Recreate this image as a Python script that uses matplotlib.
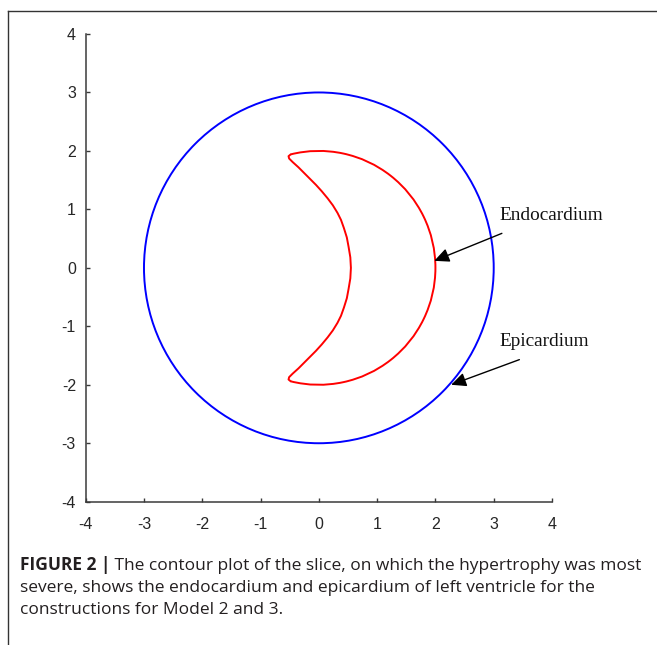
import matplotlib
matplotlib.use("Agg")
import matplotlib.pyplot as plt
from matplotlib.patches import Circle, Arc
from matplotlib.lines import Line2D

# ---- data ----
epi_radius = 3.0
endo_radius = 2.0
endo_arc_deg = 104.0  # outer endocardial arc spans -104..104 degrees

# inner (septal) boundary of the endocardium, upper half, from cusp to midline
inner_x_upper = [-0.484, -0.52, -0.51, -0.45, -0.35, -0.25, -0.15, -0.05,
                 0.05, 0.15, 0.24, 0.32, 0.38, 0.43, 0.48, 0.51, 0.54, 0.55]
inner_y_upper = [1.94, 1.91, 1.87, 1.81, 1.72, 1.62, 1.52, 1.42,
                 1.31, 1.19, 1.07, 0.94, 0.82, 0.68, 0.52, 0.36, 0.18, 0.0]

xticks = [-4, -3, -2, -1, 0, 1, 2, 3, 4]
yticks = [-4, -3, -2, -1, 0, 1, 2, 3, 4]

labels = ["Endocardium", "Epicardium"]
label_xy = [(3.10, 0.81), (3.10, -1.345)]
arrow_tail = [(3.14, 0.59), (3.44, -1.57)]
arrow_head = [(1.98, 0.12), (2.27, -2.0)]

caption_bold = "FIGURE 2 |"
caption_lines = [
    " The contour plot of the slice, on which the hypertrophy was most",
    "severe, shows the endocardium and epicardium of left ventricle for the",
    "constructions for Model 2 and 3.",
]

# ---- figure ----
W, H = 657, 645
fig = plt.figure(figsize=(W / 100, H / 100), dpi=100)
fig.patch.set_facecolor("white")

ax = fig.add_axes([85.7 / W, 1 - 501.7 / H, (552.0 - 85.7) / W, (501.7 - 34.0) / H])
ax.set_xlim(-4, 4)
ax.set_ylim(-4, 4)

spine_c = "#3a3a3a"
for s in ["top", "right"]:
    ax.spines[s].set_visible(False)
for s in ["left", "bottom"]:
    ax.spines[s].set_color(spine_c)
    ax.spines[s].set_linewidth(1.1)

ax.set_xticks(xticks)
ax.set_yticks(yticks)
ax.set_xticklabels([str(v) for v in xticks])
ax.set_yticklabels([str(v) for v in yticks])
ax.tick_params(axis="both", direction="in", length=3, width=1.0, color=spine_c,
               labelsize=11.5, labelcolor="#262626")
ax.tick_params(axis="x", pad=11)
ax.tick_params(axis="y", pad=7)
for t in ax.get_xticklabels() + ax.get_yticklabels():
    t.set_fontfamily("Liberation Sans")

# epicardium
ax.add_patch(Circle((0, 0), epi_radius, fill=False, edgecolor="#0000ff", lw=1.4))

# endocardium: outer arc plus inner boundary
ax.add_patch(Arc((0, 0), 2 * endo_radius, 2 * endo_radius,
                 theta1=-endo_arc_deg, theta2=endo_arc_deg, edgecolor="#ff0000", lw=1.4))
inner_x = inner_x_upper + inner_x_upper[::-1][1:]
inner_y = inner_y_upper + [-v for v in inner_y_upper[::-1][1:]]
ax.plot(inner_x, inner_y, color="#ff0000", lw=1.4, solid_capstyle="round",
        solid_joinstyle="round")

for lab, (tx, ty), tail, head in zip(labels, label_xy, arrow_tail, arrow_head):
    ax.text(tx, ty, lab, fontsize=13.9, family="Liberation Serif", color="#111111",
            ha="left", va="baseline", clip_on=False)
    ax.annotate("", xy=head, xytext=tail,
                arrowprops=dict(arrowstyle="-|>,head_length=0.6,head_width=0.28",
                                color="black", lw=1.0, mutation_scale=15,
                                shrinkA=0, shrinkB=0),
                annotation_clip=False)

# panel frame (top and left edges)
fig.add_artist(Line2D([8 / W, 1.0], [1 - 11 / H, 1 - 11 / H], color="#333333", lw=1.0))
fig.add_artist(Line2D([8 / W, 8 / W], [0.0, 1 - 11 / H], color="#333333", lw=1.0))

# caption
cap_color = "#231f20"
cap_font = "Open Sans"
cap_size = 11.3
x0 = 20 / W
line1_right = 647.0
baselines = [570, 592.5, 614.5]
renderer = fig.canvas.get_renderer()

# size the caption so its first line spans the text block width
bold = fig.text(x0, 1 - baselines[0] / H, caption_bold, fontsize=cap_size,
                weight="bold", family=cap_font, color=cap_color, va="baseline")
rest = fig.text(0, 1 - baselines[0] / H, caption_lines[0], fontsize=cap_size,
                family=cap_font, color=cap_color, va="baseline")
w = bold.get_window_extent(renderer).width + rest.get_window_extent(renderer).width
cap_size *= (line1_right - 20.0) / w
bold.set_fontsize(cap_size)
rest.set_fontsize(cap_size)
bb = bold.get_window_extent(renderer=renderer)
rest.set_x(bb.x1 / W)
for line, b in zip(caption_lines[1:], baselines[1:]):
    fig.text(x0, 1 - b / H, line, fontsize=cap_size, family=cap_font,
             color=cap_color, va="baseline")

fig.savefig("out.png", dpi=100, facecolor="white")
